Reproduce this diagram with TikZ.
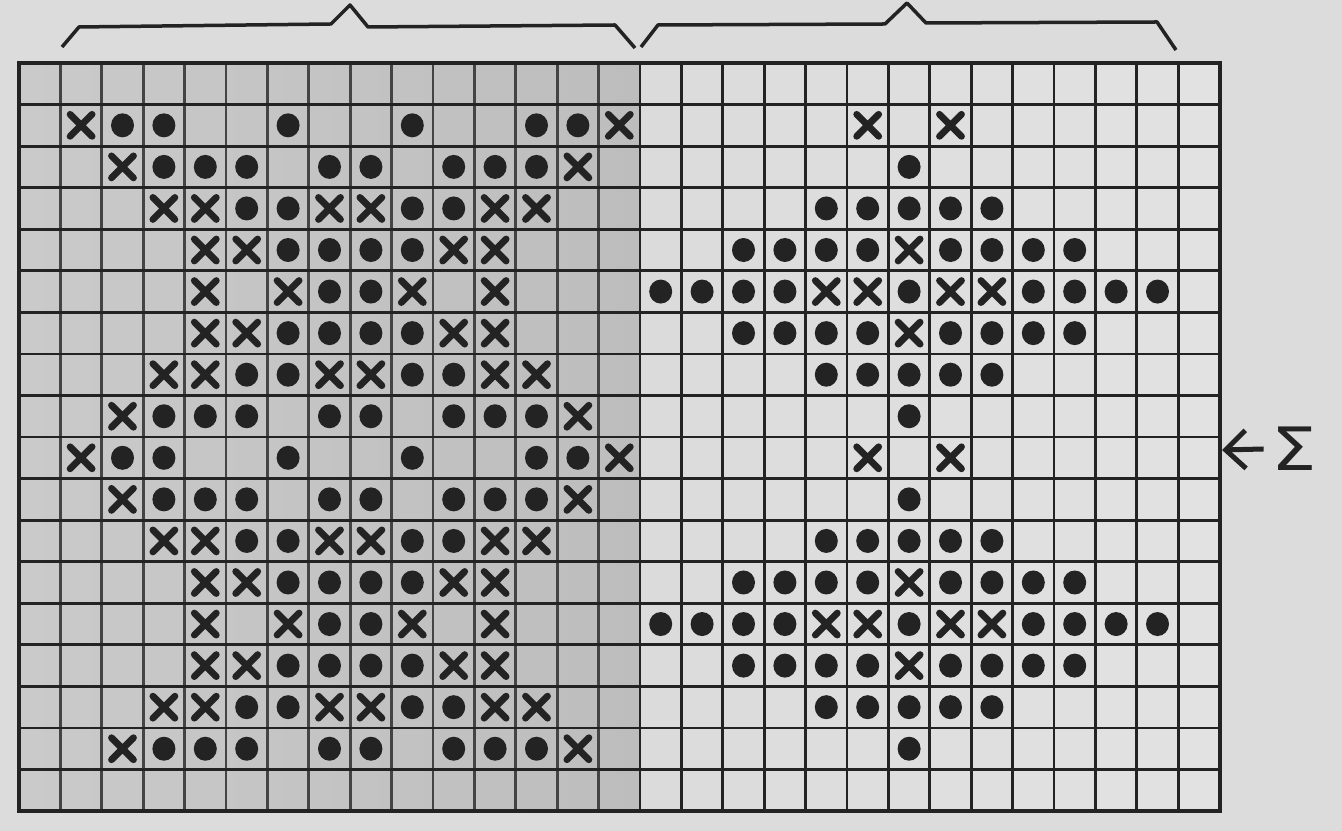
\documentclass[tikz,border=0pt]{standalone}
\usepackage{fontspec}
\usepackage{graphicx}
\newfontfamily\sigfont{DejaVu Sans}
\usetikzlibrary{arrows.meta}
\definecolor{paper}{HTML}{DCDCDC}
\definecolor{ink}{HTML}{232323}
\definecolor{leftA}{HTML}{CACACA}
\definecolor{leftB}{HTML}{BDBDBD}
\definecolor{rightA}{HTML}{DBDBDB}
\definecolor{rightB}{HTML}{E2E2E2}
\begin{document}
\begin{tikzpicture}[x=0.01cm,y=-0.01cm,
  gridline/.style={draw=ink,line width=0.028cm},
  vgridleft/.style={draw=ink!85,line width=0.028cm},
  border/.style={draw=ink,line width=0.045cm},
  xmark/.style={draw=ink,line width=0.068cm,line cap=round},
  dotmark/.style={fill=ink},
  bracestroke/.style={draw=ink,line width=0.035cm,line join=round},
  arrowstroke/.style={draw=ink,line width=0.05cm}]
\fill[paper] (0,0) rectangle (1342,831);
\useasboundingbox (0,0) rectangle (1342,831);
% cell background
\shade[left color=leftA,right color=leftB] (19,63) rectangle (640,811);
\shade[left color=rightA,right color=rightB] (640,63) rectangle (1220,811);
% grid
\foreach \c in {1,...,14} \draw[vgridleft] ({19+41.4*\c},63) -- ({19+41.4*\c},811);
\foreach \c in {15,...,28} \draw[gridline] ({19+41.4*\c},63) -- ({19+41.4*\c},811);
\foreach \r in {1,...,17} \draw[gridline] (19,{63+41.56*\r}) -- (1220,{63+41.56*\r});
\draw[border] (19,63) rectangle (1220,811);
% marks
\foreach \r/\xs/\ds in {
  1/{1,14,20,22}/{2,3,6,9,12,13},
  2/{2,13}/{3,4,5,7,8,10,11,12,21},
  3/{3,4,7,8,11,12}/{5,6,9,10,19,20,21,22,23},
  4/{4,5,10,11,21}/{6,7,8,9,17,18,19,20,22,23,24,25},
  5/{4,6,9,11,19,20,22,23}/{7,8,15,16,17,18,21,24,25,26,27},
  6/{4,5,10,11,21}/{6,7,8,9,17,18,19,20,22,23,24,25},
  7/{3,4,7,8,11,12}/{5,6,9,10,19,20,21,22,23},
  8/{2,13}/{3,4,5,7,8,10,11,12,21}} {
  \foreach \k in {0,8} {
    \foreach \c in \xs {
      \draw[xmark,shift={({19+41.4*(\c+0.5)},{63+41.56*(\r+\k+0.5)})}]
        (-11,-11) -- (11,11) (-11,11) -- (11,-11);
    }
    \foreach \c in \ds {
      \fill[dotmark] ({19+41.4*(\c+0.5)},{63+41.56*(\r+\k+0.5)}) circle[x radius=11.5,y radius=12];
    }
  }
}
% braces
\draw[bracestroke] (62,47) -- (79,27) -- (331,24) -- (350,5) -- (368,27) -- (615,25) -- (635,48);
\draw[bracestroke] (641,47) -- (658,25) -- (885,24) -- (907,3) -- (926,23) -- (1157,22) -- (1176,50);
% sigma marker
\node[font=\sigfont\fontsize{17}{19}\selectfont,text=ink,inner sep=2pt] (sig) at (1294,449) {\scalebox{1.2}[1]{Σ}};
\coordinate (tip) at (1222,450);
\draw[arrowstroke,-{Straight Barb[length=0.2cm,width=0.38cm]}] (sig.west) -- (tip);
\end{tikzpicture}
\end{document}
